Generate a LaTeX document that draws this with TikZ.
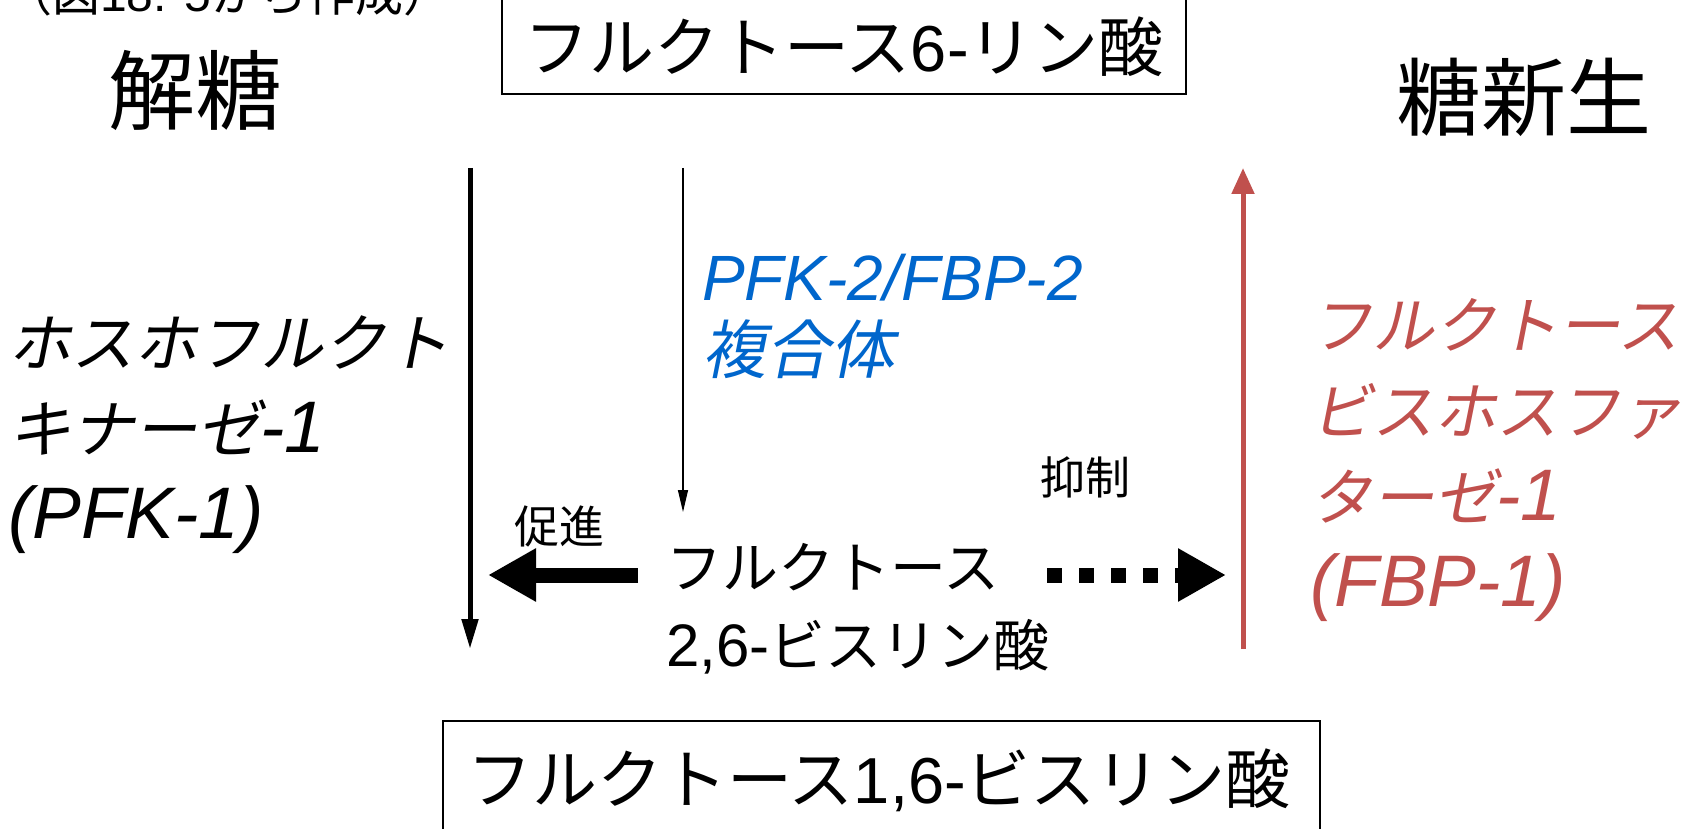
\documentclass[tikz,border=0pt]{standalone}
\usepackage{fontspec}
\setmainfont{Liberation Sans}
\newfontfamily\jpf{Noto Sans CJK JP}
\newfontfamily\jpif{Noto Sans CJK JP}[FakeSlant=0.2]
\usetikzlibrary{arrows.meta}
\definecolor{redc}{RGB}{192,80,77}
\definecolor{bluec}{RGB}{0,102,204}
\newcommand{\jt}[1]{{\jpf #1}}
\newcommand{\jit}[1]{{\jpif #1}}
\newcommand{\bigit}[1]{{\fontsize{73}{86}\selectfont\itshape #1}}
\tikzset{
  txt/.style={inner sep=0pt},
  boxline/.style={draw=black, line width=1.5pt},
  longarrow/.style={line width=5pt, -{Triangle[width=16pt,length=30pt]}},
  thinarrow/.style={line width=1.3pt, -{Triangle[width=10pt,length=22pt]}},
  fatarrow/.style={line width=15pt, -{Triangle[width=50pt,length=48pt]}},
}
\begin{document}
\begin{tikzpicture}[x=1pt,y=-1pt]
\useasboundingbox (0,0) rectangle (1701,829);
\fill[white] (0,0) rectangle (1701,829);

% caption
\node[txt, anchor=base west, font=\fontsize{48}{56}\selectfont] (src) at (4,12) {\jt{（図}18. 5\jt{から作成）}};

% headings
\node[txt, font=\fontsize{87}{100}\selectfont] (glyco) at (195,90) {\jt{解糖}};
\node[txt, font=\fontsize{85}{100}\selectfont] (gluconeo) at (1524,97) {\jt{糖新生}};

% top and bottom boxes
\draw[boxline] (502,-5) rectangle (1186,94);
\node[txt, font=\fontsize{65}{80}\selectfont] (f6p) at (844,47) {\jt{フルクトース}6-\jt{リン酸}};
\draw[boxline] (443,721) rectangle (1320,840);
\node[txt, font=\fontsize{65}{80}\selectfont] (f16bp) at (879,780) {\jt{フルクトース}1,6-\jt{ビスリン酸}};

% vertical arrows
\coordinate (lA) at (470,168);
\coordinate (lB) at (470,649);
\draw[longarrow] (lA) -- (lB);
\coordinate (mA) at (683,168);
\coordinate (mB) at (683,512);
\draw[thinarrow] (mA) -- (mB);
\coordinate (rA) at (1243,649);
\coordinate (rB) at (1243,168);
\draw[longarrow, draw=redc, fill=redc, -{Triangle[width=22pt,length=26pt]}] (rA) -- (rB);

% enzyme labels
\node[txt, anchor=west, align=left, font=\fontsize{63}{86}\selectfont] (pfk1) at (8,435)
  {\jit{ホスホフルクト}\\\jit{キナーゼ}\bigit{-1}\\\bigit{(PFK-1)}};
\node[txt, anchor=west, align=left, text=bluec, font=\fontsize{64}{73}\selectfont] (pfk2) at (702,316)
  {\textit{PFK-2/FBP-2}\\\jit{複合体}};
\node[txt, anchor=west, align=left, text=redc, font=\fontsize{62}{86}\selectfont] (fbp1) at (1310,460)
  {\jit{フルクトース}\\\jit{ビスホスファ}\\\jit{ターゼ}\bigit{-1}\\\bigit{(FBP-1)}};

% center compound
\node[txt, anchor=west, align=left, font=\fontsize{56}{78}\selectfont] (f26bp) at (666,609)
  {\jt{フルクトース}\\{\fontsize{60}{78}\selectfont 2,6-}\jt{ビスリン酸}};

% effect arrows
\coordinate (pA) at (638,575);
\coordinate (pB) at (488,575);
\draw[fatarrow] (pA) -- (pB);
\node[txt, font=\fontsize{45}{50}\selectfont] (promote) at (559,526) {\jt{促進}};
\coordinate (iA) at (1047,575);
\coordinate (iB) at (1226,575);
\draw[fatarrow, dash pattern=on 15pt off 17pt] (iA) -- (iB);
\node[txt, font=\fontsize{45}{50}\selectfont] (inhibit) at (1085,477) {\jt{抑制}};
\end{tikzpicture}
\end{document}
